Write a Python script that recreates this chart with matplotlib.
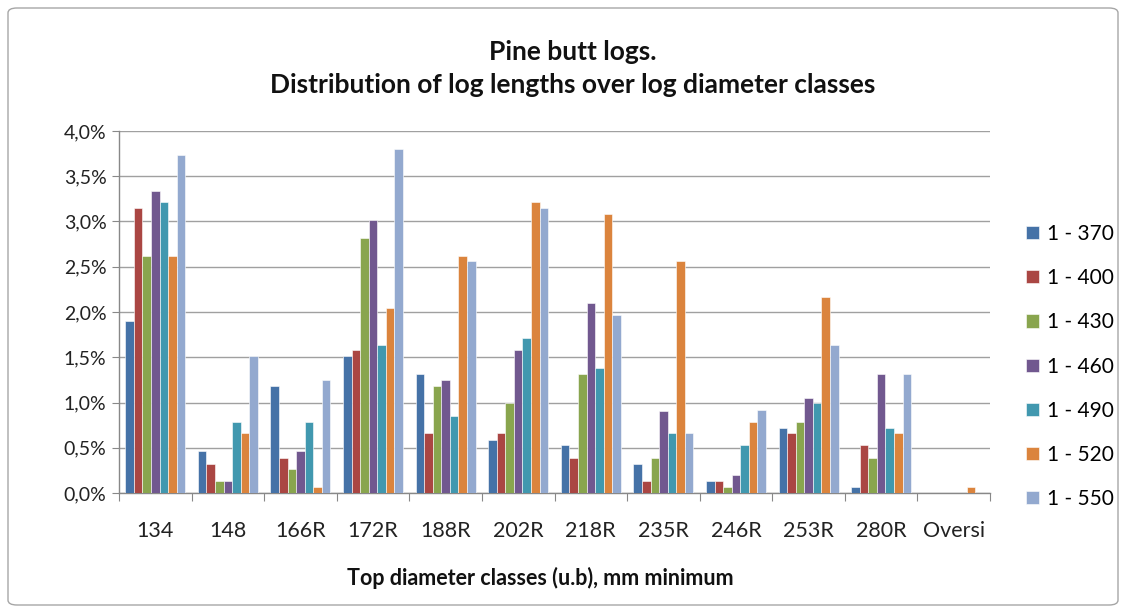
import matplotlib
matplotlib.use("Agg")
import matplotlib.pyplot as plt
import numpy as np
from matplotlib.patches import FancyBboxPatch
from matplotlib.ticker import FuncFormatter

categories = ["134", "148", "166R", "172R", "188R", "202R", "218R", "235R", "246R", "253R", "280R", "Oversi"]
series_names = ["1 - 370", "1 - 400", "1 - 430", "1 - 460", "1 - 490", "1 - 520", "1 - 550"]
s370 = [1.90, 0.46, 1.18, 1.51, 1.31, 0.59, 0.53, 0.32, 0.13, 0.72, 0.07, 0.0]
s400 = [3.15, 0.32, 0.39, 1.58, 0.66, 0.66, 0.39, 0.13, 0.13, 0.66, 0.53, 0.0]
s430 = [2.62, 0.13, 0.26, 2.82, 1.18, 1.00, 1.31, 0.39, 0.07, 0.79, 0.39, 0.0]
s460 = [3.34, 0.13, 0.46, 3.02, 1.25, 1.58, 2.10, 0.91, 0.20, 1.05, 1.31, 0.0]
s490 = [3.21, 0.79, 0.79, 1.64, 0.85, 1.71, 1.38, 0.66, 0.53, 1.00, 0.72, 0.0]
s520 = [2.62, 0.66, 0.07, 2.04, 2.62, 3.21, 3.08, 2.56, 0.79, 2.17, 0.66, 0.07]
s550 = [3.74, 1.51, 1.25, 3.80, 2.56, 3.15, 1.97, 0.66, 0.92, 1.64, 1.31, 0.0]
series = [s370, s400, s430, s460, s490, s520, s550]
colors = ["#4572A7", "#AA4643", "#89A54E", "#71588F", "#4198AF", "#DB843D", "#93A9CF"]

plt.rcParams['font.family'] = ['Lato', 'DejaVu Sans']

fig = plt.figure(figsize=(11.27, 6.13), dpi=100)
frame = FancyBboxPatch((8/1127, 8/613), 1110/1127, 597/613,
                       boxstyle="round,pad=0,rounding_size=0.008",
                       transform=fig.transFigure, fill=False,
                       edgecolor="#A6A6A6", linewidth=1.0)
fig.patches.append(frame)

ax = fig.add_axes([119/1127, (613-493)/613, (990-119)/1127, (493-131)/613])

n = len(series)
x = np.arange(len(categories))
bw = 0.118
for i, (vals, c, name) in enumerate(zip(series, colors, series_names)):
    offs = (i - (n - 1) / 2) * bw
    ax.bar(x + offs, vals, width=bw, color=c, edgecolor="white", linewidth=0.4,
           label=name, zorder=3)

ax.set_xlim(-0.5, len(categories) - 0.5)
ax.set_ylim(0, 4.0)
ax.set_yticks(np.arange(0, 4.01, 0.5))
ax.yaxis.set_major_formatter(FuncFormatter(lambda v, p: f"{v:.1f}%".replace(".", ",")))
ax.grid(axis="y", color="#A0A0A0", linewidth=1.0, zorder=0)
ax.set_axisbelow(True)

ax.set_xticks(np.arange(-0.5, len(categories), 1.0))
ax.set_xticklabels([])
ax.set_xticks(x, minor=True)
ax.set_xticklabels(categories, minor=True)
ax.tick_params(axis="x", which="major", length=6, color="#888888", direction="out")
ax.tick_params(axis="x", which="minor", length=0, pad=20, labelsize=15.5, labelcolor="#222222")
ax.tick_params(axis="y", length=5, color="#888888", labelsize=14, labelcolor="#222222", pad=4)

for s in ["top", "right"]:
    ax.spines[s].set_visible(False)
for s in ["left", "bottom"]:
    ax.spines[s].set_color("#888888")
    ax.spines[s].set_linewidth(1.0)

fig.text(573/1127, 1 - 52/613, "Pine butt logs.", ha="center", va="center",
         fontsize=19, fontweight="bold", color="#111111")
fig.text(573/1127, 1 - 85/613, "Distribution of log lengths over log diameter classes",
         ha="center", va="center", fontsize=19, fontweight="bold", color="#111111")
fig.text(540/1127, 1 - 578/613, "Top diameter classes (u.b), mm minimum",
         ha="center", va="center", fontsize=15.5, fontweight="bold", color="#111111")

handles, labels = ax.get_legend_handles_labels()
fig.legend(handles, labels, loc="upper left",
           bbox_to_anchor=(1026/1127, 1 - 224/613), frameon=False,
           fontsize=15, labelspacing=1.16, handlelength=0.6, handleheight=0.6,
           handletextpad=0.4, borderpad=0, borderaxespad=0)

fig.savefig("out.png", dpi=100)
